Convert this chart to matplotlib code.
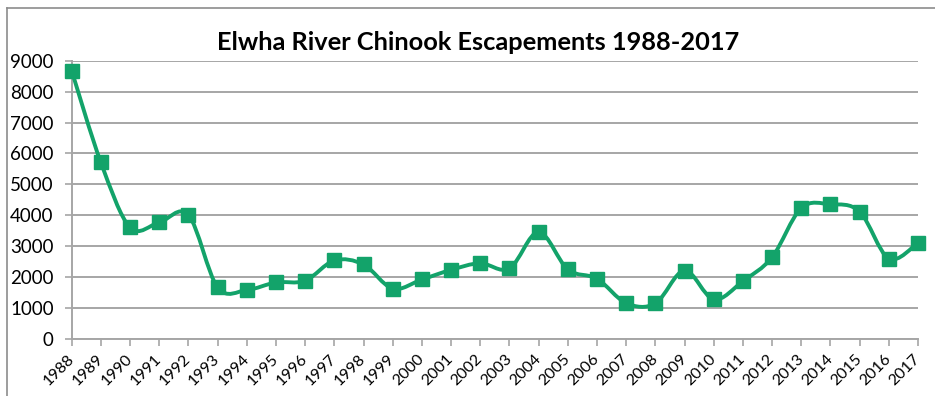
import matplotlib
matplotlib.use("Agg")
import matplotlib.pyplot as plt
from matplotlib.path import Path
from matplotlib.patches import PathPatch
from matplotlib.lines import Line2D

years = list(range(1988, 2018))
escapement = [8675, 5710, 3610, 3770, 4010, 1670, 1585, 1830, 1885, 2540,
              2410, 1630, 1925, 2235, 2450, 2280, 3460, 2250, 1950, 1160,
              1150, 2215, 1280, 1870, 2645, 4235, 4355, 4120, 2600, 3110]
yticks = list(range(0, 9001, 1000))
title = "Elwha River Chinook Escapements 1988-2017"

GREEN = "#13A36A"
GRID = "#A6A6A6"
W, H = 935, 396
DPI = 100

plt.rcParams["font.family"] = ["Lato", "DejaVu Sans"]

fig = plt.figure(figsize=(W / DPI, H / DPI), dpi=DPI)
ax = fig.add_axes([71.7 / W, 1 - 339 / H, (918 - 71.7) / W, (339 - 60.7) / H])

# smooth curve through the points (cubic Bezier segments, Catmull-Rom style)
xs = years
ys = escapement
n = len(xs)
verts = [(xs[0], ys[0])]
codes = [Path.MOVETO]
for i in range(n - 1):
    x0, y0 = xs[max(i - 1, 0)], ys[max(i - 1, 0)]
    x1, y1 = xs[i], ys[i]
    x2, y2 = xs[i + 1], ys[i + 1]
    x3, y3 = xs[min(i + 2, n - 1)], ys[min(i + 2, n - 1)]
    c1 = (x1 + (x2 - x0) / 6, y1 + (y2 - y0) / 6)
    c2 = (x2 - (x3 - x1) / 6, y2 - (y3 - y1) / 6)
    verts += [c1, c2, (x2, y2)]
    codes += [Path.CURVE4] * 3
curve = PathPatch(Path(verts, codes), facecolor="none", edgecolor=GREEN,
                  lw=2.8, capstyle="round", joinstyle="round", zorder=3)
ax.add_patch(curve)
ax.plot(xs, ys, linestyle="none", marker="s", markersize=9.4,
        color=GREEN, zorder=4, clip_on=False)

ax.set_xlim(years[0], years[-1])
ax.set_ylim(0, 9000)
ax.set_yticks(yticks)
ax.set_yticklabels([str(v) for v in yticks], fontsize=13.5)
ax.set_xticks(years)
ax.set_xticklabels([str(y) for y in years], fontsize=11.5, rotation=45,
                   ha="right", va="center", rotation_mode="anchor")
ax.tick_params(axis="x", length=5, width=1.2, color=GRID, pad=8)
ax.tick_params(axis="y", length=5, width=1.2, color=GRID, pad=8)

ax.grid(axis="y", color=GRID, lw=1.4)
ax.set_axisbelow(True)
for side in ("top", "right"):
    ax.spines[side].set_visible(False)
for side in ("left", "bottom"):
    ax.spines[side].set_color(GRID)
    ax.spines[side].set_linewidth(1.4)

fig.text(478 / W, 1 - 42 / H, title, ha="center", va="center",
         fontsize=18.3, fontweight="bold")

# outer chart frame
fig.add_artist(Line2D([7 / W, 1], [1 - 8 / H, 1 - 8 / H], color="#8C8C8C", lw=1.2))
fig.add_artist(Line2D([7 / W, 7 / W], [0, 1 - 8 / H], color="#8C8C8C", lw=1.2))

fig.savefig("out.png", dpi=DPI)
